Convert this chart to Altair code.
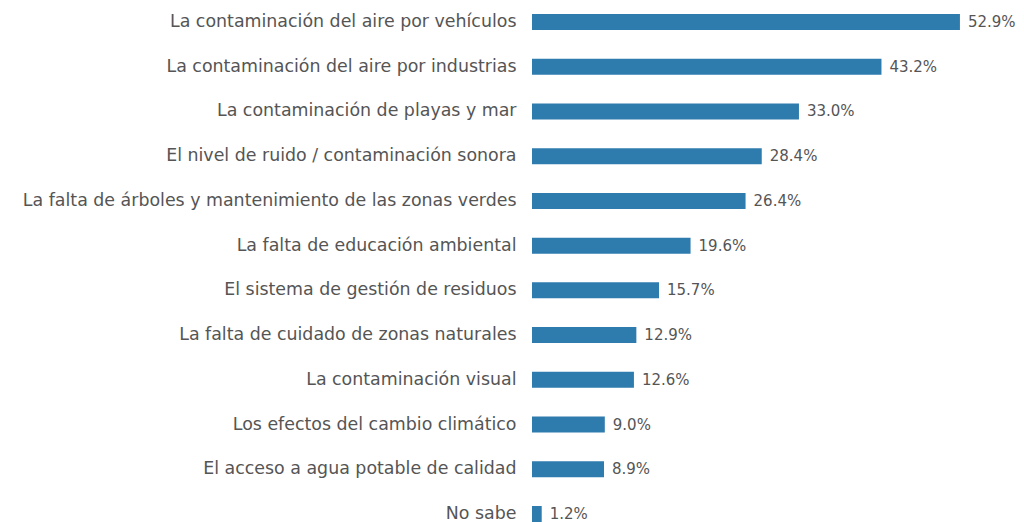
import altair as alt
import pandas as pd

categories = [
    "La contaminación del aire por vehículos",
    "La contaminación del aire por industrias",
    "La contaminación de playas y mar",
    "El nivel de ruido / contaminación sonora",
    "La falta de árboles y mantenimiento de las zonas verdes",
    "La falta de educación ambiental",
    "El sistema de gestión de residuos",
    "La falta de cuidado de zonas naturales",
    "La contaminación visual ",
    "Los efectos del cambio climático",
    "El acceso a agua potable de calidad",
    "No sabe",
]
values = [52.9, 43.2, 33.0, 28.4, 26.4, 19.6, 15.7, 12.9, 12.6, 9.0, 8.9, 1.2]
labels = [f"{v:.1f}%" for v in values]

df = pd.DataFrame({"cat": categories, "val": values, "lab": labels})

FONT = "DejaVu Sans"
y = alt.Y(
    "cat:N",
    sort=categories,
    title=None,
    scale=alt.Scale(paddingInner=0.642, paddingOuter=0.134, range=[0, 520]),
    axis=alt.Axis(
        ticks=False,
        domain=False,
        labelPadding=16,
        labelFontSize=17.4,
        labelFont=FONT,
        labelColor="#555555",
        labelLimit=700,
    ),
)
x = alt.X("val:Q", title=None, scale=alt.Scale(domain=[0, 59.83]), axis=None)

bars = alt.Chart(df).mark_bar(color="#2e7bae").encode(x=x, y=y)
text = alt.Chart(df).mark_text(
    align="left", baseline="middle", dx=8, font=FONT, fontSize=15, color="#555555"
).encode(x=x, y=y, text="lab:N")

chart = (
    alt.layer(bars, text)
    .properties(
        width=484,
        height=514,
        autosize=alt.AutoSizeParams(type="none"),
        padding={"left": 524, "top": 0, "right": 0, "bottom": 0},
    )
    .configure_view(stroke=None)
)

chart.save("out.html", embed_options={"renderer": "svg", "actions": False})
